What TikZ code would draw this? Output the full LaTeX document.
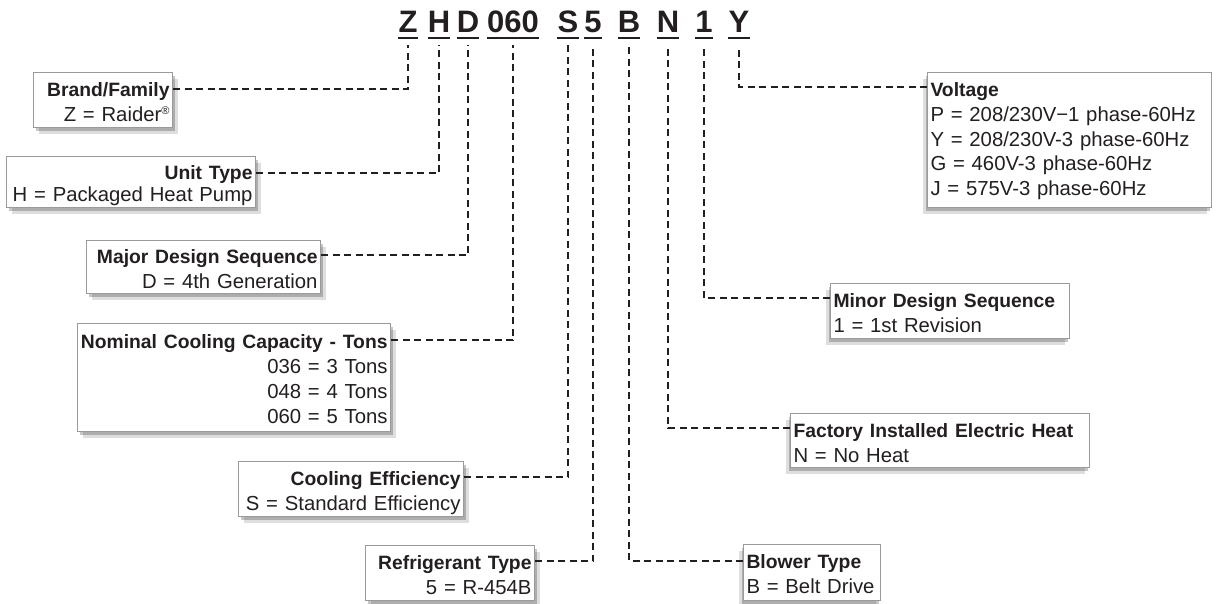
\documentclass[tikz,border=0pt]{standalone}
\usepackage{fontspec}
\setmainfont{Liberation Sans}
\usetikzlibrary{shadows}
\definecolor{ink}{HTML}{231F20}
\definecolor{framegray}{HTML}{9A9A9A}
\newcommand\tstr[1]{\rule{0pt}{#1pt}}
\newcommand\bstr[1]{\rule[-#1pt]{0pt}{#1pt}}
\newcommand\ttl[1]{\mbox{\fontsize{19.3}{25}\selectfont\bfseries #1}}
\newcommand\regmark{\raisebox{7pt}{\fontsize{11}{11}\selectfont ®}}
\begin{document}
\begin{tikzpicture}[x=1pt,y=-1pt,
  box/.style={draw=framegray, line width=1pt, fill=white, inner xsep=3pt, inner ysep=0pt,
    anchor=north west, text=ink, font=\fontsize{20.3}{25}\selectfont},
  shr/.style={drop shadow={shadow xshift=2pt,shadow yshift=-3pt,fill=black,opacity=0.22},
              drop shadow={shadow xshift=5pt,shadow yshift=-6pt,fill=black,opacity=0.13}},
  shl/.style={drop shadow={shadow xshift=-2pt,shadow yshift=-3pt,fill=black,opacity=0.22},
              drop shadow={shadow xshift=-5pt,shadow yshift=-6pt,fill=black,opacity=0.13}},
  conn/.style={draw=ink, line width=1.8pt, dash pattern=on 7pt off 4.5pt},
  hdr/.style={font=\fontsize{31}{31}\selectfont\bfseries, text=ink, anchor=base, inner xsep=0pt, inner ysep=0pt},
  uline/.style={draw=ink, line width=2.2pt}]
\useasboundingbox[fill=white] (0,0) rectangle (1217,603);

% header code letters
\node[hdr] (lZ) at (408,32) {Z};
\node[hdr] (lH) at (439,32) {H};
\node[hdr] (lD) at (468,32) {D};
\node[hdr] (lC) at (513,32) {060};
\node[hdr] (lS) at (568,32) {S};
\node[hdr] (lR) at (593,32) {5};
\node[hdr] (lB) at (629,32) {B};
\node[hdr] (lN) at (668,32) {N};
\node[hdr] (l1) at (704,32) {1};
\node[hdr] (lY) at (739,32) {Y};
\foreach \n in {lZ,lH,lD,lC,lS,lR,lB,lN,l1,lY}
  \draw[uline] ([yshift=-6pt]\n.base west) -- ([yshift=-6pt]\n.base east);

% boxes, left side
\node[box, shr, text width=133pt, align=right] (brand) at (33,72)
  {\tstr{24}\ttl{Brand/Family}\\\mbox{Z = Raider\regmark}\bstr{6}};
\node[box, shr, text width=243pt, align=right, font=\fontsize{20.3}{22}\selectfont] (unit) at (6,156)
  {\tstr{23}\ttl{Unit Type}\\\mbox{H = Packaged Heat Pump}\bstr{6}};
\node[box, shr, text width=228pt, align=right] (major) at (86,240)
  {\tstr{23}\ttl{Major Design Sequence}\\\mbox{D = 4th Generation}\bstr{5}};
\node[box, shr, text width=307pt, align=right] (nominal) at (77,323)
  {\tstr{25}\ttl{Nominal Cooling Capacity - Tons}\\\mbox{036 = 3 Tons}\\\mbox{048 = 4 Tons}\\\mbox{060 = 5 Tons}\bstr{8}};
\node[box, shr, text width=219pt, align=right] (cooling) at (238,461)
  {\tstr{24}\ttl{Cooling Efficiency}\\\mbox{S = Standard Efficiency}\bstr{6}};
\node[box, shr, text width=163pt, align=right] (refrig) at (365,545)
  {\tstr{24}\ttl{Refrigerant Type}\\\mbox{5 = R-454B}\bstr{6}};

% boxes, right side
\node[box, shl, text width=131pt, align=left] (blower) at (743,544)
  {\tstr{24}\ttl{Blower Type}\\\mbox{B = Belt Drive}\bstr{7}};
\node[box, shl, text width=293pt, align=left] (factory) at (790,413)
  {\tstr{24}\ttl{Factory Installed Electric Heat}\\\mbox{N = No Heat}\bstr{5}};
\node[box, shl, text width=233pt, align=left] (minor) at (830,283)
  {\tstr{24}\ttl{Minor Design Sequence}\\\mbox{1 = 1st Revision}\bstr{6}};
\node[box, shl, text width=278pt, align=left, font=\fontsize{20.3}{24.75}\selectfont] (volt) at (927,72)
  {\tstr{24}\ttl{Voltage}\\\mbox{P = 208/230V−1 phase-60Hz}\\\mbox{Y = 208/230V-3 phase-60Hz}\\\mbox{G = 460V-3 phase-60Hz}\\\mbox{J = 575V-3 phase-60Hz}\bstr{12}};

% connectors
\draw[conn] (brand.north east) ++(0,17) -| ([yshift=-13pt]lZ.base);
\draw[conn] (unit.north east) ++(0,17) -| ([yshift=-13pt]lH.base);
\draw[conn] (major.north east) ++(0,15) -| ([yshift=-13pt]lD.base);
\draw[conn] (nominal.north east) ++(0,17) -| ([yshift=-13pt]lC.base);
\draw[conn] (cooling.north east) ++(0,16) -| ([yshift=-13pt]lS.base);
\draw[conn] (refrig.north east) ++(0,16) -| ([yshift=-13pt]lR.base);
\draw[conn] (blower.north west) ++(0,17) -| ([yshift=-13pt]lB.base);
\draw[conn] (factory.north west) ++(0,15) -| ([yshift=-13pt]lN.base);
\draw[conn] (minor.north west) ++(0,15) -| ([yshift=-13pt]l1.base);
\draw[conn] (volt.north west) ++(0,15) -| ([yshift=-13pt]lY.base);
\end{tikzpicture}
\end{document}
